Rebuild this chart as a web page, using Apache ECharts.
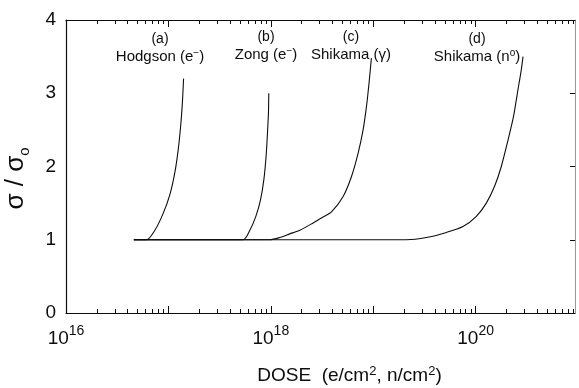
<!DOCTYPE html>
<html>
<head>
<meta charset="utf-8">
<script src="https://cdn.jsdelivr.net/npm/echarts@6/dist/echarts.min.js"></script>
<style>
  html, body { margin: 0; padding: 0; background: #fff; }
  #chart { width: 579px; height: 388px; }
</style>
</head>
<body>
<div id="chart"></div>
<script>
// Normalised conductivity sigma/sigma0 versus dose for four irradiation studies
const doseA  = [4.6e16, 6.12e16, 7.38e16, 8.89e16, 1.035e17, 1.156e17, 1.247e17, 1.324e17, 1.374e17, 1.406e17];
const sigmaA = [1.0, 1.0, 1.13, 1.36, 1.62, 1.92, 2.23, 2.59, 2.91, 3.2];

const doseB  = [4.6e16, 5.37e17, 6.24e17, 7.14e17, 7.92e17, 8.55e17, 8.99e17, 9.27e17, 9.48e17, 9.55e17];
const sigmaB = [1.0, 1.0, 1.13, 1.32, 1.54, 1.82, 2.14, 2.45, 2.73, 3.0];

const doseC  = [4.6e16, 9.77e17, 1.22e18, 1.53e18, 1.92e18, 2.59e18, 3.24e18, 3.91e18, 5.08e18, 6.12e18, 7.11e18, 7.96e18, 8.59e18, 9.10e18, 9.59e18];
const sigmaC = [1.0, 1.0, 1.03, 1.08, 1.13, 1.23, 1.31, 1.38, 1.59, 1.86, 2.18, 2.5, 2.82, 3.14, 3.48];

const doseD  = [4.6e16, 2.11e19, 3.30e19, 5.18e19, 7.52e19, 1.016e20, 1.27e20, 1.53e20, 1.78e20, 2.07e20, 2.34e20, 2.59e20, 2.79e20, 2.90e20];
const sigmaD = [1.0, 1.0, 1.03, 1.10, 1.18, 1.32, 1.5, 1.73, 2.0, 2.36, 2.68, 3.05, 3.32, 3.5];

// decade exponents shown as 10^n labels on the dose axis
const labelExponents = [16, 18, 20];
const decadeExponents = [16, 17, 18, 19, 20];
const yTicks = [0, 1, 2, 3, 4];

const FONT = '"Liberation Sans", Arial, Helvetica, sans-serif';
const INK = '#0d0d0d';

// dose axis works in log10 units
const toLog = (doses, sig) => doses.map((d, i) => [Math.log10(d), sig[i]]);

const minorTicks = [];
decadeExponents.forEach(n => {
  for (let k = 2; k <= 9; k++) minorTicks.push(n + Math.log10(k));
});

const X_MIN = 16, X_MAX = 20.97;

function decadeAxis(position, withLabels) {
  return {
    type: 'value', position, min: X_MIN, max: X_MAX,
    axisLine: { show: true, onZero: false, lineStyle: { color: INK, width: 1.2 } },
    axisTick: { show: true, inside: true, length: 7, customValues: decadeExponents,
                lineStyle: { color: INK, width: 1 } },
    axisLabel: withLabels ? {
      show: true, customValues: labelExponents, margin: 11,
      formatter: v => '{b|10}{s|' + Math.round(v) + '}',
      rich: {
        b: { fontFamily: FONT, fontSize: 19, color: INK, verticalAlign: 'bottom', lineHeight: 24 },
        s: { fontFamily: FONT, fontSize: 14, color: INK, verticalAlign: 'top', lineHeight: 24 }
      }
    } : { show: false },
    splitLine: { show: false }
  };
}

function minorAxis(position) {
  return {
    type: 'value', position, min: X_MIN, max: X_MAX,
    axisLine: { show: false, onZero: false },
    axisTick: { show: true, inside: true, length: 4, customValues: minorTicks,
                lineStyle: { color: INK, width: 1 } },
    axisLabel: { show: false },
    splitLine: { show: false }
  };
}

const lineStyle = { color: INK, width: 1.1 };
function curve(name, data) {
  return {
    name, type: 'line', data, xAxisIndex: 0, yAxisIndex: 0,
    showSymbol: false, smooth: 0.25, lineStyle, silent: true
  };
}

const xName = Object.assign(decadeAxis('bottom', true), {
  name: 'DOSE  (e/cm{s|2}, n/cm{s|2})',
  nameLocation: 'middle', nameGap: 52,
  nameTextStyle: {
    fontFamily: FONT, fontSize: 19, color: INK, padding: [0, 0, 0, 58],
    rich: {
      s: { fontFamily: FONT, fontSize: 13, color: INK, verticalAlign: 'top', lineHeight: 22 }
    }
  }
});

const chart = echarts.init(document.getElementById('chart'), null, { renderer: 'canvas' });

function annotation(x, y, tag, body) {
  return {
    type: 'text', x, y,
    style: {
      text: '{t|' + tag + '}\n' + body,
      align: 'center', verticalAlign: 'middle',
      fontFamily: FONT, fontSize: 15, fill: INK, lineHeight: 17,
      rich: {
        t: { fontFamily: FONT, fontSize: 14, fill: INK, lineHeight: 17 },
        p: { fontFamily: FONT, fontSize: 10, fill: INK, verticalAlign: 'top', lineHeight: 17 }
      }
    }
  };
}

chart.setOption({
  animation: false,
  backgroundColor: '#fff',
  grid: { left: 66, right: 4, top: 20, bottom: 75, containLabel: false, outerBoundsMode: 'none' },
  xAxis: [xName, minorAxis('bottom'), decadeAxis('top', false), minorAxis('top')],
  yAxis: [
    {
      type: 'value', position: 'left', min: 0, max: 4, interval: 1,
      axisLine: { show: true, onZero: false, lineStyle: { color: INK, width: 1.2 } },
      axisTick: { show: false },
      axisLabel: { show: true, margin: 10, fontFamily: FONT, fontSize: 19, color: INK,
                   customValues: yTicks },
      splitLine: { show: false },
      name: '{g|σ / σ}{o|o}',
      nameLocation: 'middle', nameRotate: 90, nameGap: 34,
      nameTextStyle: {
        fontFamily: FONT, fontSize: 26, color: INK, padding: [0, 24, 0, 0],
        rich: {
          g: { fontFamily: FONT, fontSize: 26, color: INK, verticalAlign: 'top', lineHeight: 29 },
          o: { fontFamily: FONT, fontSize: 15, color: INK, verticalAlign: 'bottom', lineHeight: 29 }
        }
      }
    },
    {
      type: 'value', position: 'right', min: 0, max: 4, interval: 1,
      axisLine: { show: true, onZero: false, lineStyle: { color: '#999', width: 1 } },
      axisTick: { show: true, inside: true, length: 5, lineStyle: { color: INK, width: 1 } },
      axisLabel: { show: false },
      splitLine: { show: false }
    }
  ],
  series: [
    curve('Hodgson (e-)', toLog(doseA, sigmaA)),
    curve('Zong (e-)', toLog(doseB, sigmaB)),
    curve('Shikama (γ)', toLog(doseC, sigmaC)),
    curve('Shikama (n°)', toLog(doseD, sigmaD))
  ],
  graphic: [
    annotation(160, 48, '(a)', 'Hodgson (e{p|−})'),
    annotation(266, 46, '(b)', 'Zong (e{p|−})'),
    annotation(351, 46, '(c)', 'Shikama (γ)'),
    annotation(477, 48, '(d)', 'Shikama (n{p|o})')
  ]
});
</script>
</body>
</html>
